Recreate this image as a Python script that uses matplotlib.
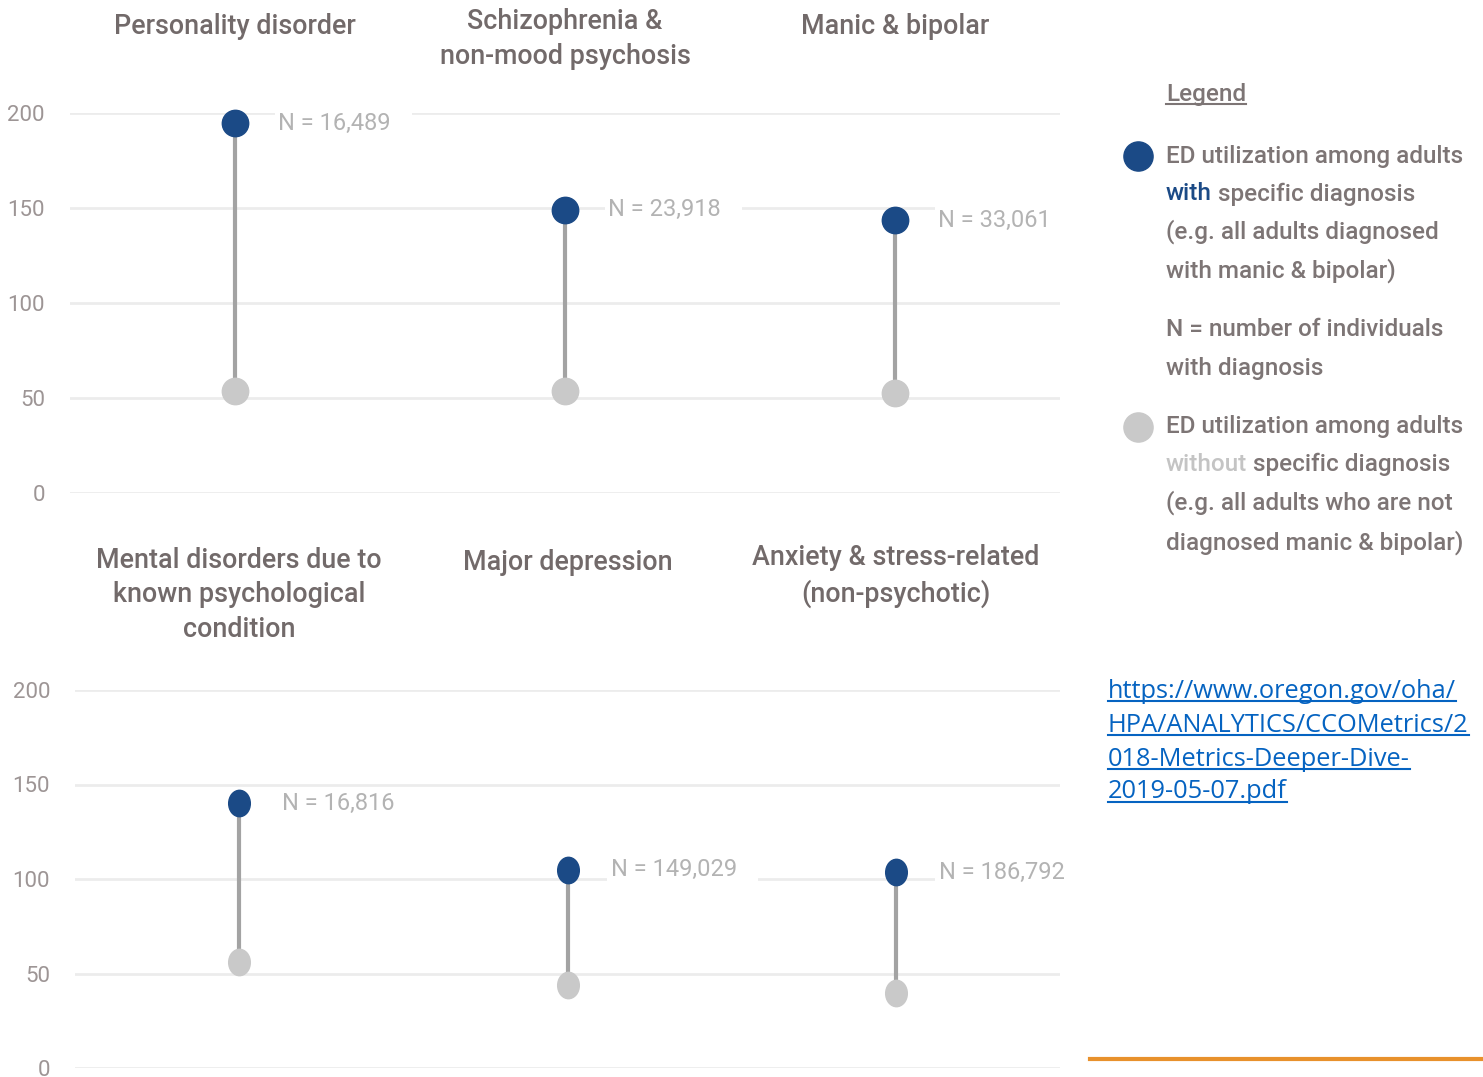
import matplotlib
matplotlib.use("Agg")
import matplotlib.pyplot as plt
import matplotlib.transforms as mtransforms
from matplotlib.path import Path
from matplotlib.lines import Line2D

# data
top_titles = ["Personality disorder", "Schizophrenia &\nnon-mood psychosis", "Manic & bipolar"]
top_with = [194.7, 149.0, 143.7]
top_without = [53.7, 53.7, 52.6]
top_n = ["N = 16,489", "N = 23,918", "N = 33,061"]

bot_titles = ["Mental disorders due to\nknown psychological\ncondition", "Major depression",
              "Anxiety & stress-related\n(non-psychotic)"]
bot_with = [140.2, 104.8, 103.7]
bot_without = [56.0, 43.9, 39.7]
bot_n = ["N = 16,816", "N = 149,029", "N = 186,792"]

yticks = [0, 50, 100, 150, 200]

plt.rcParams['font.family'] = ["Roboto", "DejaVu Sans"]

BLUE = "#1b4a86"
GREY = "#c9c9c9"
STEM = "#a3a3a3"
TITLE_C = "#726a6a"
TICK_C = "#9d9595"
NLAB_C = "#b3b3b3"
GRID_C = "#ececec"

W, H = 1483, 1077
fig = plt.figure(figsize=(W / 100, H / 100), dpi=100)


def px_box(x0, x1, ytop, ybot):
    return [x0 / W, 1 - ybot / H, (x1 - x0) / W, (ybot - ytop) / H]


def panel(ax, titles, with_v, without_v, nlabs, title_y, marker):
    x = list(range(len(titles)))
    ax.set_xlim(-0.5, 2.5)
    ax.set_ylim(0, 200)
    for s in ax.spines.values():
        s.set_visible(False)
    ax.set_xticks([])
    ax.set_yticks(yticks)
    ax.tick_params(axis='y', length=0, pad=18, labelsize=16, labelcolor=TICK_C)
    for t in yticks:
        ax.axhline(t, color=GRID_C, lw=2, zorder=0)
    for i in x:
        ax.plot([i, i], [without_v[i], with_v[i]], color=STEM, lw=3, zorder=2, clip_on=False)
        ax.plot(i, without_v[i], marker=marker, ms=19, color=GREY, mec=GREY, zorder=3, clip_on=False)
        ax.plot(i, with_v[i], marker=marker, ms=19, color=BLUE, mec=BLUE, zorder=4, clip_on=False)
        ax.annotate(nlabs[i] + "   ", (i, with_v[i]), xytext=(31, 0), textcoords='offset points',
                    va='center', ha='left', fontsize=17, color=NLAB_C, zorder=1,
                    bbox=dict(boxstyle='square,pad=0.15', fc='white', ec='none'))
    tr = mtransforms.blended_transform_factory(ax.transData, fig.transFigure)
    for i, t in enumerate(titles):
        ax.text(i, 1 - title_y[i] / H, t, transform=tr, ha='center', va='center',
                fontsize=19.4, fontweight='medium', color=TITLE_C, linespacing=1.35)


ax1 = fig.add_axes(px_box(70, 1060, 113, 493))
panel(ax1, top_titles, top_with, top_without, top_n, [27, 39, 27], 'o')

# lower panel markers are slightly taller than wide in the picture
circ = Path.unit_circle()
ell = Path(circ.vertices * [0.82, 1.0], circ.codes)
ax2 = fig.add_axes(px_box(75, 1060, 690, 1068))
panel(ax2, bot_titles, bot_with, bot_without, bot_n, [595, 563, 576], ell)

# legend block
LEG_C = "#7d7575"
LEG_FS = 17.5
leg_title = fig.text(1166 / W, 1 - 95 / H, "Legend", fontsize=LEG_FS, fontweight='medium',
                     color=LEG_C, va='center', ha='left')

fig.add_artist(Line2D([1138 / W], [1 - 156 / H], marker='o', ms=21, color=BLUE, mec=BLUE))
fig.add_artist(Line2D([1138 / W], [1 - 427 / H], marker='o', ms=21, color=GREY, mec=GREY))

leg_lines = [
    (156, [("ED utilization among adults", LEG_C)]),
    (194, [("with", BLUE), (" specific diagnosis", LEG_C)]),
    (232, [("(e.g. all adults diagnosed", LEG_C)]),
    (271, [("with manic & bipolar)", LEG_C)]),
    (330, [("N = number of individuals", LEG_C)]),
    (368, [("with diagnosis", LEG_C)]),
    (427, [("ED utilization among adults", LEG_C)]),
    (465, [("without", "#c4c4c4"), (" specific diagnosis", LEG_C)]),
    (503, [("(e.g. all adults who are not", LEG_C)]),
    (543, [("diagnosed manic & bipolar)", LEG_C)]),
]
leg_texts = []
for y, parts in leg_lines:
    row = [fig.text(1166 / W, 1 - y / H, parts[0][0], fontsize=LEG_FS, fontweight='medium',
                    color=parts[0][1], va='center', ha='left')]
    for txt, col in parts[1:]:
        row.append(fig.text(0, 0, txt, fontsize=LEG_FS, fontweight='medium', color=col,
                            va='bottom', ha='left'))
    leg_texts.append(row)

# place the coloured word pieces after their first part
fig.canvas.draw()
r = fig.canvas.get_renderer()
for row in leg_texts:
    for base, piece in zip(row[:-1], row[1:]):
        bb = base.get_window_extent(r)
        piece.set_position((bb.x1 / W, bb.y0 / H))

bb = leg_title.get_window_extent(r)
fig.add_artist(Line2D([bb.x0 / W, bb.x1 / W], [(bb.y0 + 3) / H] * 2, color=LEG_C, lw=1.5))

# source url
URL_C = "#0563c1"
url_lines = ["https://www.oregon.gov/oha/", "HPA/ANALYTICS/CCOMetrics/2",
             "018-Metrics-Deeper-Dive-", "2019-05-07.pdf"]
url_y = [691, 725, 759, 792]
url_texts = []
for s, y in zip(url_lines, url_y):
    url_texts.append(fig.text(1108 / W, 1 - y / H, s, fontsize=18.3, color=URL_C,
                              va='center', ha='left', family=["Open Sans", "DejaVu Sans"]))
fig.canvas.draw()
for t in url_texts:
    bb = t.get_window_extent(r)
    yy = (bb.y0 + 3) / H
    fig.add_artist(Line2D([bb.x0 / W, bb.x1 / W], [yy, yy], color=URL_C, lw=1.5))

fig.add_artist(Line2D([1090 / W, 1.0], [1 - 1059 / H, 1 - 1059 / H], color="#e8912c", lw=3))

fig.savefig("out.png", dpi=100, facecolor='white')
